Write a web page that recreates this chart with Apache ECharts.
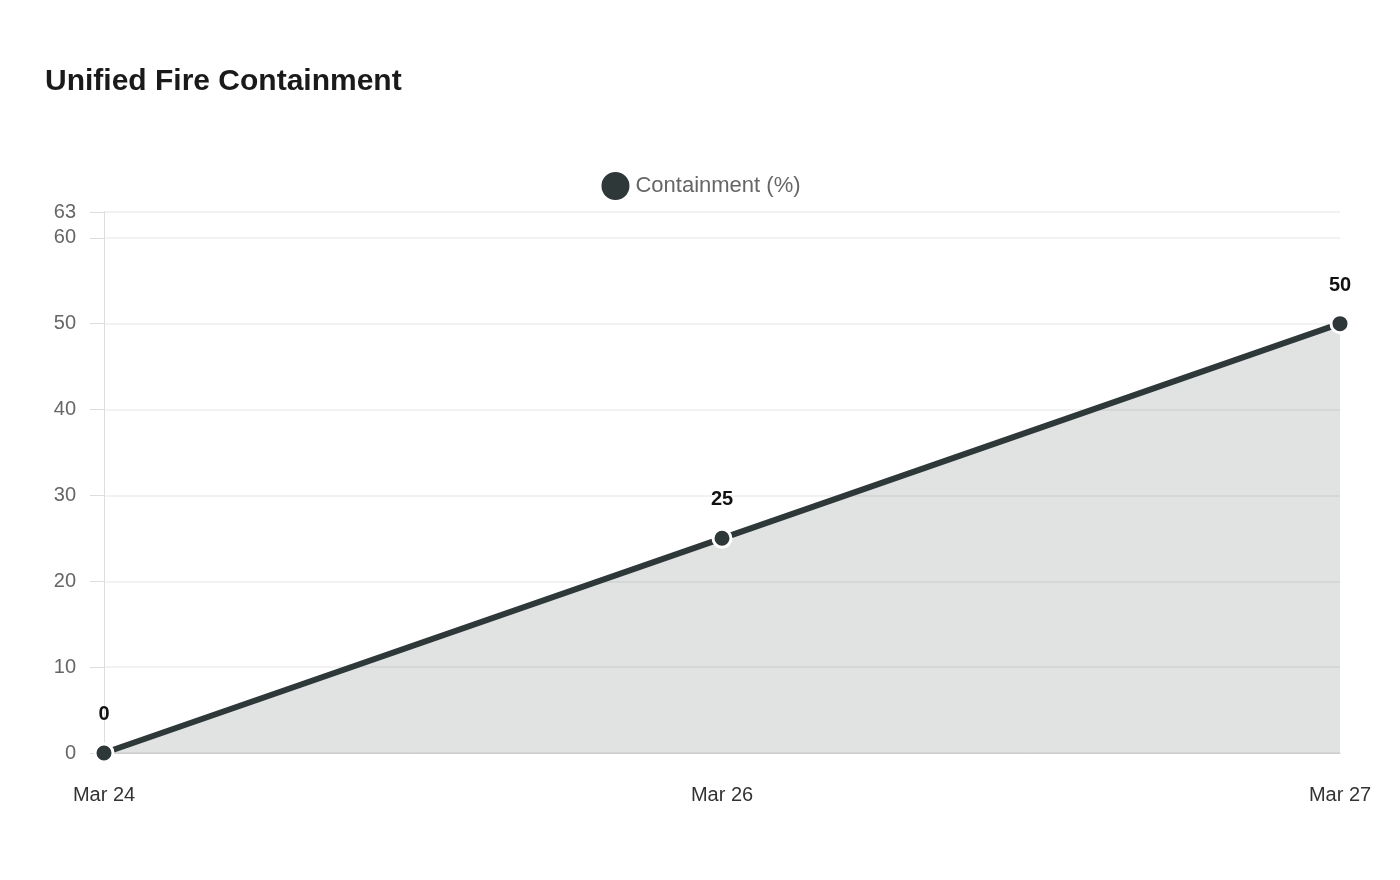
<!DOCTYPE html>
<html><head><meta charset="utf-8">
<script src="https://cdn.jsdelivr.net/npm/echarts@6/dist/echarts.min.js"></script>
<style>html,body{margin:0;padding:0;background:#fff}#c{width:1400px;height:880px}</style>
</head><body><div id="c"></div>
<script>
const categories = ["Mar 24", "Mar 26", "Mar 27"];
const containment = [0, 25, 50];
const seriesName = "Containment (%)";
const chart = echarts.init(document.getElementById('c'));
chart.setOption({
  backgroundColor: '#fff',
  textStyle: {fontFamily: 'Liberation Sans, Arial, sans-serif'},
  title: {text: 'Unified Fire Containment', left: 40, top: 62,
    textStyle: {fontSize: 30, fontWeight: 'bold', color: '#1a1a1a', fontFamily: 'Liberation Sans, Arial, sans-serif'}},
  legend: {top: 165, left: 'center', icon: 'circle', itemWidth: 30, itemHeight: 30,
    textStyle: {fontSize: 22, color: '#666'}, data: [seriesName]},
  grid: {left: 104, right: 60, top: 212, bottom: 127, containLabel: false},
  xAxis: {type: 'category', data: categories, boundaryGap: false,
    axisLine: {lineStyle: {color: '#ccc'}}, axisTick: {show: false},
    axisLabel: {fontSize: 20, color: '#333', margin: 32}},
  yAxis: {type: 'value', min: 0, max: 63, interval: 10,
    axisLine: {show: true, lineStyle: {color: '#ddd'}},
    axisTick: {show: true, length: 14, lineStyle: {color: '#ddd'}},
    axisLabel: {fontSize: 20, color: '#666', showMaxLabel: true, margin: 28},
    splitLine: {lineStyle: {color: '#eee', width: 1.5}}},
  series: [{
    name: seriesName, type: 'line', data: containment,
    color: '#2e3838',
    symbol: 'circle', symbolSize: 18,
    lineStyle: {width: 6, color: '#2e3838'},
    itemStyle: {color: '#2e3838', borderColor: '#fff', borderWidth: 3},
    areaStyle: {color: 'rgba(46,56,56,0.2)'},
    label: {show: true, position: 'top', distance: 18, fontSize: 20, fontWeight: 'bold', color: '#111'}
  }]
});
</script></body></html>
